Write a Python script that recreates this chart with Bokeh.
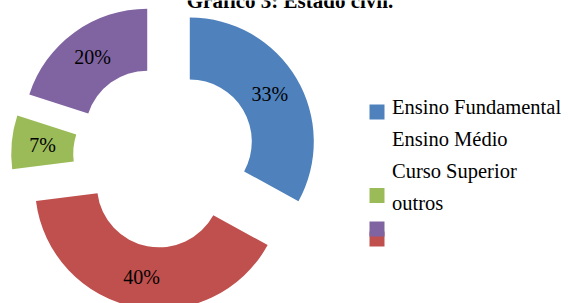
import numpy as np
from bokeh.plotting import figure
from bokeh.models import Range1d
from bokeh.embed import file_html
from bokeh.resources import INLINE
from bokeh.core.properties import value

# ---- data ----
title_text = "Gráfico 3: Estado civil."
categories = ["Ensino Fundamental", "Ensino Médio", "Curso Superior", "outros"]
percent = [33, 40, 7, 20]
colors = ["#4F81BD", "#C0504D", "#9BBB59", "#8064A2"]

# ---- layout / style ----
W, H = 568, 303
FONT = "Liberation Serif"

p = figure(width=W, height=H, output_backend="svg", toolbar_location=None,
           x_range=Range1d(0, W), y_range=Range1d(0, H), min_border=0,
           outline_line_color=None)
p.axis.visible = False
p.grid.visible = False
p.margin = 0


def sy(y):
    # convert a top-down pixel position into the y-up data space
    return H - y


# doughnut geometry
cx, cy = 164.0, sy(156.0)
R_out, R_in = 124.0, 62.0
explode = 0.237 * R_out
label_r = 0.75 * R_out

frac = np.array(percent, dtype=float) / sum(percent)
ends = np.cumsum(frac) * 2 * np.pi
starts = ends - frac * 2 * np.pi
mids = (starts + ends) / 2
ux, uy = np.sin(mids), np.cos(mids)
xs = cx + explode * ux
ys = cy + explode * uy

p.annular_wedge(x=xs, y=ys, inner_radius=R_in, outer_radius=R_out,
                start_angle=np.pi / 2 - starts, end_angle=np.pi / 2 - ends,
                direction="clock", fill_color=colors, line_color=None)

p.text(x=xs + label_r * ux, y=ys + label_r * uy,
       text=[f"{v}%" for v in percent],
       text_align="center", text_baseline="middle",
       text_font=value(FONT), text_font_size="20px", text_color="#000000")

# title (partly cut at the top, as in the source)
p.text(x=[289.5], y=[sy(0.5)], text=[title_text], text_align="center",
       text_baseline="middle", text_font=value(FONT),
       text_font_style="bold", text_font_size="21px", text_color="#000000")

# legend (reproducing the displaced swatches of the source)
leg_x_sq = 376.5
sq_size = 15
sq_y = [111.5, 238.5, 195.0, 228.5]  # blue, red, green, purple
for c, yy in zip(colors, sq_y):
    p.rect(x=[leg_x_sq], y=[sy(yy)], width=sq_size, height=sq_size,
           fill_color=c, line_color=None)

text_x = 391.5
text_y0, text_dy = 106.5, 32.0
p.text(x=[text_x] * len(categories),
       y=[sy(text_y0 + i * text_dy) for i in range(len(categories))],
       text=categories, text_align="left", text_baseline="middle",
       text_font=value(FONT), text_font_size="20.5px", text_color="#000000")

open("out.html", "w").write(file_html(p, INLINE))
